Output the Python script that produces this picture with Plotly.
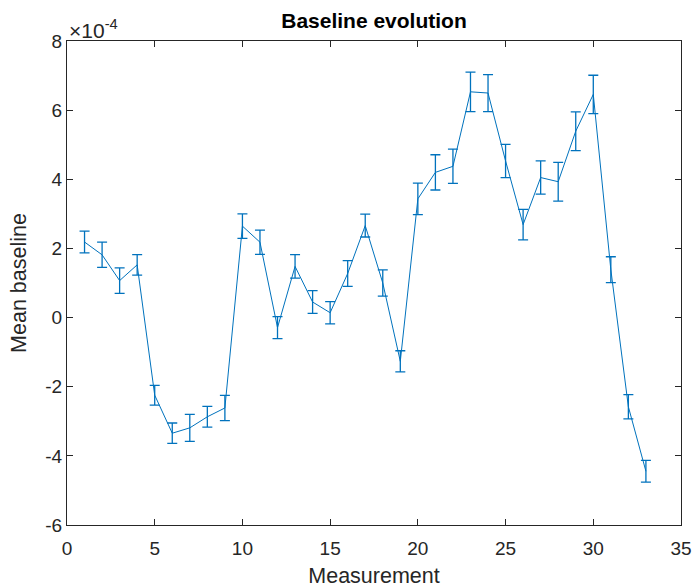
import plotly.graph_objects as go

measurement = list(range(1, 34))
mean_baseline_e4 = [2.185, 1.815, 1.07, 1.525, -2.245, -3.345, -3.19, -2.87, -2.615, 2.645,
                    2.18, -0.29, 1.48, 0.45, 0.14, 1.275, 2.66, 1.00, -1.265, 3.435,
                    4.20, 4.375, 6.53, 6.495, 4.53, 2.69, 4.05, 3.93, 5.39, 6.455,
                    1.385, -2.58, -4.445]
err_e4 = [0.315, 0.365, 0.37, 0.295, 0.285, 0.295, 0.39, 0.30, 0.365, 0.355,
          0.35, 0.32, 0.34, 0.33, 0.32, 0.375, 0.33, 0.38, 0.305, 0.455,
          0.51, 0.495, 0.57, 0.535, 0.48, 0.44, 0.48, 0.56, 0.56, 0.555,
          0.375, 0.35, 0.315]
mean_baseline = [v * 1e-4 for v in mean_baseline_e4]
err = [v * 1e-4 for v in err_e4]

x_ticks = [0, 5, 10, 15, 20, 25, 30, 35]
y_tick_labels = ["-6", "-4", "-2", "0", "2", "4", "6", "8"]
y_ticks = [int(t) * 1e-4 for t in y_tick_labels]

blue = "#0072BD"
axc = "#262626"
font = "Liberation Sans, Arial, sans-serif"

fig = go.Figure()
fig.add_trace(go.Scatter(
    x=measurement, y=mean_baseline, mode="lines",
    line=dict(color=blue, width=1),
    error_y=dict(type="data", array=err, visible=True, color=blue, thickness=1.3, width=5),
    showlegend=False,
))

axis_common = dict(showline=True, linecolor=axc, linewidth=1, mirror="ticks",
                   ticks="inside", ticklen=6, tickcolor=axc, showgrid=False,
                   zeroline=False, automargin=False,
                   tickfont=dict(family=font, size=19, color=axc))

fig.update_layout(
    width=694, height=588,
    margin=dict(l=67, r=13, t=41, b=63),
    plot_bgcolor="white", paper_bgcolor="white",
    title=dict(text="<b>Baseline evolution</b>", x=374 / 694, xanchor="center",
               y=1 - 21 / 588, yanchor="middle",
               font=dict(family=font, size=21, color="black")),
    xaxis=dict(range=[0, 35], tickvals=x_ticks, ticklabelstandoff=6,
               title=dict(text="Measurement", font=dict(family=font, size=21.5, color=axc), standoff=11),
               **axis_common),
    yaxis=dict(range=[-6e-4, 8e-4], tickvals=y_ticks, ticktext=y_tick_labels,
               title=dict(text="Mean baseline", font=dict(family=font, size=21.5, color=axc), standoff=12),
               **axis_common),
    annotations=[dict(text="×10<sup>-4</sup>", xref="paper", yref="paper", x=0, y=1,
                      xanchor="left", yanchor="bottom", showarrow=False, xshift=0, yshift=-3,
                      font=dict(family=font, size=21, color=axc))],
)

fig.write_html("out.html")
